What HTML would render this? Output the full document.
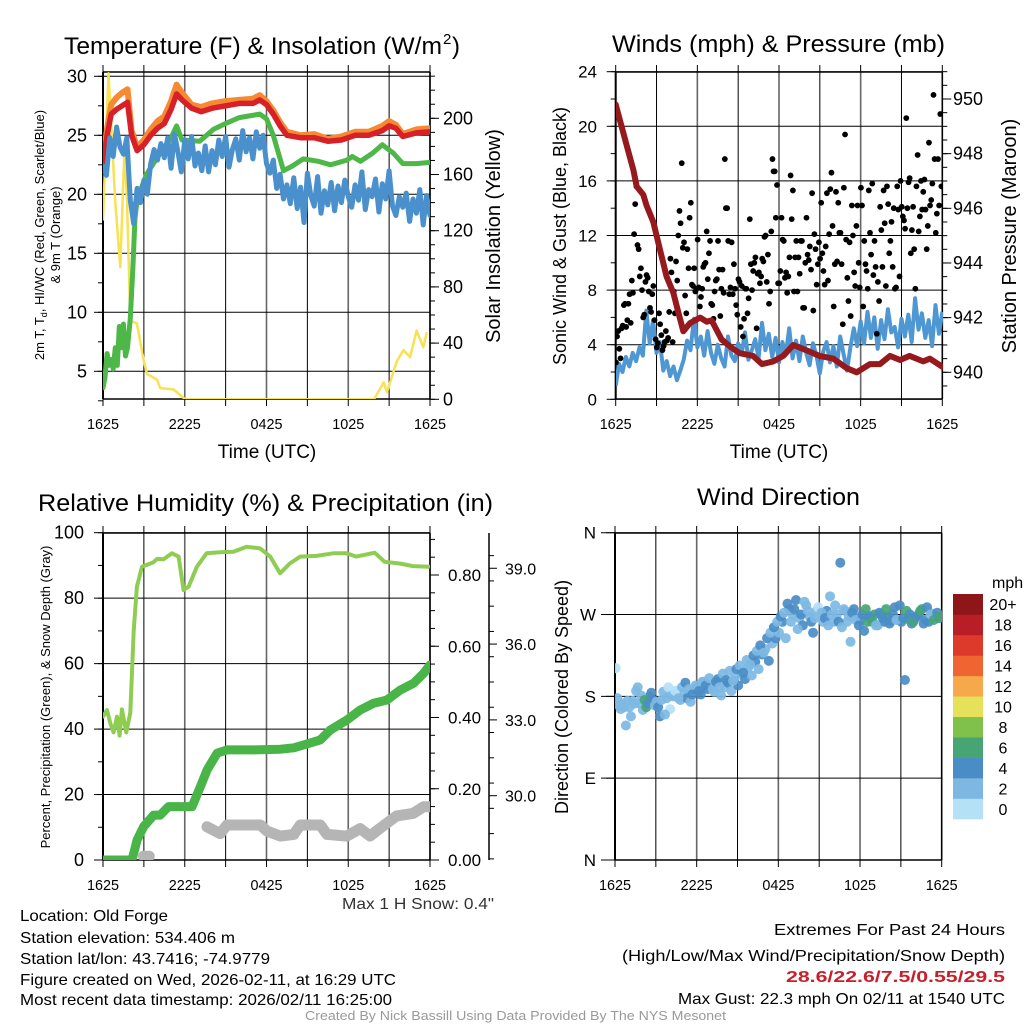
<!DOCTYPE html>
<html><head><meta charset="utf-8"><style>
html,body{margin:0;padding:0;background:#fff;}
svg{display:block;font-family:"Liberation Sans Narrow","Liberation Sans",sans-serif;}
</style></head><body>
<svg id="root" width="1024" height="1024" viewBox="0 0 1024 1024" xmlns="http://www.w3.org/2000/svg">
<rect width="1024" height="1024" fill="#fff"/>
<defs>
<clipPath id="c1"><rect x="103" y="72" width="327" height="327"/></clipPath>
<clipPath id="c2"><rect x="616" y="72" width="327" height="327"/></clipPath>
<clipPath id="c3"><rect x="103" y="533" width="327" height="327"/></clipPath>
<clipPath id="c4"><rect x="615" y="533" width="327" height="327"/></clipPath>
</defs>
<g font-size="24" fill="#000">
<text x="64" y="54" textLength="378" lengthAdjust="spacingAndGlyphs">Temperature (F) &amp; Insolation (W/m</text>
<text x="443" y="44" font-size="15">2</text>
<text x="452" y="54">)</text>
<text x="612" y="52" textLength="333" lengthAdjust="spacingAndGlyphs">Winds (mph) &amp; Pressure (mb)</text>
<text x="38" y="511" textLength="455" lengthAdjust="spacingAndGlyphs">Relative Humidity (%) &amp; Precipitation (in)</text>
<text x="697" y="505" textLength="163" lengthAdjust="spacingAndGlyphs">Wind Direction</text>
</g>
<g font-size="19">
<text x="267" y="458" text-anchor="middle">Time (UTC)</text>
<text x="779" y="458" text-anchor="middle">Time (UTC)</text>
</g>
<g font-size="13" text-anchor="middle">
<text transform="translate(44,235) rotate(-90)">2m T, T<tspan font-size="9" dy="3">d</tspan><tspan dy="-3">, HI/WC (Red, Green, Scarlet/Blue)</tspan></text>
<text transform="translate(60,235) rotate(-90)">&amp; 9m T (Orange)</text>
<text transform="translate(50,697) rotate(-90)">Percent, Precipitation (Green), &amp; Snow Depth (Gray)</text>
</g>
<g font-size="20" text-anchor="middle">
<text transform="translate(500,236) rotate(-90)">Solar Insolation (Yellow)</text>
<text transform="translate(1016,236) rotate(-90)">Station Pressure (Maroon)</text>
</g>
<g font-size="18" text-anchor="middle">
<text transform="translate(566,236) rotate(-90)">Sonic Wind &amp; Gust (Blue, Black)</text>
<text transform="translate(568,697) rotate(-90)">Direction (Colored By Speed)</text>
</g>
<g id="marks"></g>
<g font-size="16" fill="#000">
<text x="342" y="909" fill="#333" textLength="152" lengthAdjust="spacingAndGlyphs">Max 1 H Snow: 0.4"</text>
<text x="20" y="921" textLength="148" lengthAdjust="spacingAndGlyphs">Location: Old Forge</text>
<text x="20" y="943" textLength="215" lengthAdjust="spacingAndGlyphs">Station elevation: 534.406 m</text>
<text x="20" y="964" textLength="250" lengthAdjust="spacingAndGlyphs">Station lat/lon: 43.7416; -74.9779</text>
<text x="20" y="985" textLength="376" lengthAdjust="spacingAndGlyphs">Figure created on Wed, 2026-02-11, at 16:29 UTC</text>
<text x="20" y="1005" textLength="372" lengthAdjust="spacingAndGlyphs">Most recent data timestamp: 2026/02/11 16:25:00</text>
<text x="774" y="935" textLength="231" lengthAdjust="spacingAndGlyphs">Extremes For Past 24 Hours</text>
<text x="622" y="961" textLength="383" lengthAdjust="spacingAndGlyphs">(High/Low/Max Wind/Precipitation/Snow Depth)</text>
<text x="786" y="982" fill="#c8202a" font-weight="bold" textLength="219" lengthAdjust="spacingAndGlyphs">28.6/22.6/7.5/0.55/29.5</text>
<text x="678" y="1004" textLength="327" lengthAdjust="spacingAndGlyphs">Max Gust: 22.3 mph On 02/11 at 1540 UTC</text>
<text x="305" y="1020" font-size="13" fill="#999" textLength="421" lengthAdjust="spacingAndGlyphs">Created By Nick Bassill Using Data Provided By The NYS Mesonet</text>
</g>
</svg>
<script>
// ---------- DATA ----------
const xTickLabels = ["1625","2225","0425","1025","1625"];
const redT = [0,0.3,0.6,1,1.4,1.8,2.1,2.5,3,3.5,4,4.5,5,5.4,5.8,6.5,7.2,8,9,10,11,11.5,12,12.5,13,13.5,14.5,15.5,16.5,17.5,18.5,19.5,20.5,21,21.5,22,23,24];
const redV = [22.6,25,26.8,27.2,27.5,27.8,25,23.7,24.2,25,25.6,26,27.2,28.5,28,27.3,27.0,27.3,27.5,27.7,27.7,28,27.6,26.8,25.8,25.0,24.8,24.8,24.5,24.6,25,25,25.4,25.8,25.6,24.9,25.2,25.3];
const orangeV = [22.9,25.6,27.6,28.2,28.6,28.9,25.4,24.0,24.6,25.5,26.2,26.6,27.9,29.3,28.6,27.6,27.4,27.7,27.9,28.0,28.1,28.4,27.9,27.1,26.1,25.3,25.0,25.1,24.7,24.9,25.3,25.3,25.8,26.2,25.9,25.1,25.5,25.6];
const greenT = [0,0.15,0.3,0.45,0.6,0.75,0.9,1.05,1.2,1.35,1.5,1.65,1.8,2.0,2.2,2.35,2.5,2.8,3.2,4.2,5.0,5.4,5.8,7.1,8.1,9,10,11.5,12,12.5,13.25,13.9,14.7,15.8,16.7,17.9,18.3,18.9,19.8,20.5,21.3,22,23,24];
const greenV = [3.6,4.5,6.5,5.5,6,5.2,7,5.5,8.8,7,9,6.3,7,9.5,14,18,19.5,20.5,21.7,23.5,24.8,25.8,24.6,24.5,25.5,26,26.5,26.8,26.4,25,22,22.4,23,22.8,22.5,22.9,23.2,22.8,23.5,24.2,23.5,22.6,22.6,22.7];
const blueV = [22.4,21.6,24.8,23.2,25.7,24.0,23.4,24.8,19.5,17.5,20.5,19.3,21.2,20.0,22.6,23.8,22.9,24.3,23.1,24.8,22.2,25.1,23.6,21.9,24.6,23.0,24.9,22.4,23.5,22.0,24.1,21.9,23.7,22.5,24.6,23.2,24.9,22.3,23.8,24.7,22.9,25.4,23.6,24.8,23.0,25.3,23.9,25.0,22.6,21.8,22.9,20.5,21.7,19.6,20.8,19.2,21.4,18.8,20.6,17.6,21.8,19.9,19.0,21.5,18.4,20.3,19.1,21.0,18.6,20.7,19.3,21.2,19.8,18.9,20.8,19.5,21.9,18.7,20.4,19.8,21.3,18.5,20.9,19.6,22.0,19.0,18.2,19.8,18.9,20.1,17.7,19.6,18.4,20.4,17.4,19.9,18.2];
const solarT = [0,0.4,0.9,1.27,1.57,1.76,2.0,2.49,2.98,3.23,3.96,4.2,5.18,6.03,19.9,20.6,20.84,21.56,22.05,22.54,23.02,23.51,23.75];
const solarV = [128,232,140,94,177,142,56,54,28,18,14,8,7,0,0,12,5,27,35,30,49,37,47];
const windV = [1.0,2.6,2.0,3.1,2.4,3.4,2.8,3.8,3.2,6.5,4.1,5.8,3.4,4.2,2.1,2.8,1.7,2.4,1.4,2.1,2.9,4.3,3.6,5.9,3.8,4.6,3.2,5.0,3.4,2.6,4.0,3.0,2.4,4.6,3.2,2.8,4.1,3.3,4.9,2.9,3.6,4.4,3.0,5.6,3.6,4.8,3.1,4.5,2.7,4.2,3.3,5.2,3.0,4.3,2.8,4.6,3.4,2.5,4.1,3.2,1.9,3.5,4.2,2.7,3.9,2.4,4.6,3.3,2.1,3.8,5.2,3.9,5.7,4.1,6.4,4.5,6.0,3.7,5.8,4.4,6.6,4.9,5.3,3.8,5.9,4.6,6.2,4.2,7.4,5.1,6.3,4.5,5.8,3.9,6.9,4.8,6.4];
const gustV = [2.7,5.0,3.0,5.4,7.0,5.8, 7.7,8.7,12.1,15.6,11.0,9.6, 6.0,8.6,8.9,6.7,7.7,5.8, 3.8,6.3,4.7,3.9,5.0,4.5, 10.3,4.2,6.3,8.7,13.8,17.3, 11.5,6.3,9.6,14.4,8.3,7.9, 11.7,6.8,8.1,9.9,12.3,10.7, 7.0,5.9,8.7,11.6,6.1,9.5, 17.6,14.0,7.7,11.5,9.9,6.9, 8.8,5.3,4.6,8.1,6.3,13.2, 8.0,10.0,5.2,9.3,9.0,10.1, 12.0,10.6,7.9,17.6,16.7,15.7, 8.5,13.3,11.6,9.3,9.0,16.4, 15.3,10.4,7.9,9.2,11.6,6.7, 13.3,10.2,9.5,6.5,11.0,9.9, 10.3,10.7,8.4,15.1,12.1,16.6, 6.8,15.2,14.4,12.2,5.5,19.4, 8.9,11.5,14.2,9.3,12.7,10.0, 15.5,6.8,9.9,8.1,12.2,15.8, 11.6,4.8,7.2,12.4,15.3,8.3, 14.3,11.6,9.7,8.1,15.6,9.0, 14.1,13.1,20.6,15.9,10.7,14.1, 8.1,17.9,13.4,13.9,16.1,11.0, 18.8,14.6,22.3,12.2,17.6,20.9];
const gust2V = [4.6,3.7,5.2,6.9,5.3,7.0, 5.6,7.8,14.3,11.3,9.0,8.0, 6.2,9.1,7.9,6.4,8.3,4.4, 4.1,5.5,3.6,4.2,4.3,6.4, 9.3,7.9,10.1,12.0,12.9,11.1, 7.6,11.0,13.3,8.4,9.6,8.1, 8.2,7.5,9.7,10.0,8.8,11.6, 6.9,7.9,8.8,9.5,8.1,7.8, 14.0,11.6,8.2,7.7,8.1,6.2, 8.6,8.3,5.9,8.1,7.4,9.9, 9.4,10.4,9.2,8.5,10.3,11.9, 8.6,7.0,12.3,16.7,13.3,8.5, 9.4,11.7,8.9,7.8,10.4,13.2, 7.9,11.6,10.4,11.6,6.7,10.0, 10.6,11.2,15.1,12.1,8.4,11.5, 14.4,9.4,11.2,8.7,15.4,12.7, 9.9,10.1,12.2,9.9,15.5,11.7, 7.2,6.1,12.0,8.3,14.2,8.2, 14.2,11.6,9.4,15.3,10.6,9.1, 9.7,8.6,14.1,9.7,12.9,15.6, 10.7,13.0,14.0,8.2,13.9,16.0, 13.4,12.5,14.0,16.2,12.4,11.0, 15.6,12.3,16.0,15.2,13.9,12.7, 14.2,15.8,17.6,13.6,14.2,15.6];
const presT = [0,0.32,0.81,1.3,1.54,2.03,2.27,2.76,3.25,3.74,4.24,4.6,4.97,5.46,6.2,6.69,7.05,7.78,8.52,9.11,10.1,10.75,11.58,12.31,13.05,13.54,14.03,14.97,15.98,16.98,17.71,18.69,19.42,20.16,20.9,21.6,22.6,23.08,24];
const presV = [949.8,949.2,948.3,947.4,946.8,946.5,946.1,945.5,944.5,943.5,942.9,942.2,941.5,941.8,942,941.85,941.9,941.2,940.9,940.7,940.6,940.3,940.4,940.6,941,940.9,940.8,940.6,940.5,940.15,940,940.3,940.3,940.6,940.45,940.6,940.4,940.5,940.2];
const rhT = [0,0.29,0.54,0.78,1.03,1.22,1.39,1.71,2.0,2.25,2.49,2.86,3.71,3.96,4.45,5.06,5.55,5.91,6.28,6.89,7.6,8.6,9.58,10.55,11.53,12.27,13.0,13.71,14.48,15.67,16.89,17.87,18.6,19.94,20.67,21.77,22.75,23.9];
const rhV = [43.8,45.8,41.7,39,43.8,38,46,39,45,70,83.5,89.6,91,92,91.9,93.7,92.7,82.5,83.5,89.6,93.7,94,94.2,95.7,95.2,92.7,87.6,90.6,92.7,92.9,93.7,93.7,92.7,93.9,91.1,90.6,89.8,89.6];
const precipT = [0,2.13,2.5,2.99,3.72,4.2,4.81,5.42,6.54,7.15,7.64,8.38,9.11,11.07,13.03,14.0,14.97,15.95,16.68,17.9,18.88,19.85,20.84,21.81,22.79,23.53,24];
const precipV = [0,0,0.056,0.094,0.126,0.126,0.15,0.15,0.15,0.206,0.253,0.3,0.309,0.309,0.311,0.315,0.326,0.337,0.365,0.393,0.421,0.44,0.449,0.477,0.496,0.524,0.547];
const snowT = [2.97,3.4,null,7.63,8.6,9.1,11.55,12.04,13.03,14.0,14.48,15.95,16.44,17.9,18.88,19.6,20.3,21.55,22.75,23.53,24];
const snowV = [27.6,27.6,null,28.77,28.5,28.84,28.84,28.6,28.4,28.47,28.84,28.84,28.47,28.4,28.7,28.4,28.7,29.2,29.3,29.56,29.56];
const dirV = [211,170,172,148,168,175,186,172,165,168,180,176, 174,158,185,178,166,180,186,176,184,178,174,188, 190,182,196,188,193,185,199,181,190,195,186,200, 192,205,199,212,203,218,210,226,232,219,238,244, 250,262,244,276,270,286,266,258,280,268,250,274, 268,262,274,290,262,270,327,276,262,240,276,266, 264,252,262,266,270,258,270,262,268,263,278,264, 262,198,265,260,266,270,276,264,262,271,268,266];
const dir2V = [178,166,168,175,158,172,190,181,176,172,184,170, 168,176,160,190,181,186,178,190,195,188,182,192, 186,196,192,200,188,196,190,205,198,208,197,210, 214,206,220,215,225,230,236,228,244,250,256,262, 268,272,282,262,276,254,270,284,274,262,266,278, 272,266,258,270,280,262,256,274,268,272,264,258, 270,276,268,262,258,272,266,276,260,270,264,280, 266,274,270,262,268,274,260,278,270,264,272,268];
const speedBins = ["0","2","4","6","8","10","12","14","16","18","20+"];
const speedColors = ["#b5e1f7","#7db8e3","#4a8dc6","#47a574","#7fc14b","#e6e15a","#f5a94a","#ef6531","#dd3a2c","#b91d26","#8e1619"];

// ---------- AXES ----------
const xs  = t => 103 + t*(327/24);
const xs2 = t => 615.7 + t*(326.6/24);
const xs4 = t => 615 + t*(326.7/24);
const yT  = v => 371.3 - (v-5)*11.8;
const yS  = w => 399.3 - w*1.405;
const yW  = v => 399.3 - v*13.65;
const yP  = p => 372.3 - (p-940)*27.33;
const yRH = v => 860 - v*3.273;
const yPr = p => 860 - p*356.25;
const ySn = s => 795.7 - (s-30)*25.27;
const yD  = d => 860 - d/360*327.3;

const NS="http://www.w3.org/2000/svg";
const marks=document.getElementById('marks');
function el(tag,attrs,parent){const e=document.createElementNS(NS,tag);for(const k in attrs)e.setAttribute(k,attrs[k]);(parent||marks).appendChild(e);return e;}
function grp(clip){return el('g',clip?{'clip-path':'url(#'+clip+')'}:{});}
function pathFrom(ts,vs,fx,fy){let d='',pen=false;for(let i=0;i<ts.length;i++){if(ts[i]===null||vs[i]===null){pen=false;continue;}d+=(pen?'L':'M')+fx(ts[i]).toFixed(1)+' '+fy(vs[i]).toFixed(1);pen=true;}return d;}
function txt(x,y,s,opts,parent){const t=el('text',Object.assign({x:x,y:y},opts||{}),parent);t.textContent=s;return t;}

function frame(x0,x1,y0,y1,fx){
  const g=grp();
  
  
  for(let h=0;h<=24;h+=3){const x=fx(h);
    el('line',{x1:x,x2:x,y1:y0,y2:y1,stroke:(h%6===0)?'#666':'#000','stroke-width':(h%6===0)?1.6:1},g);
    el('line',{x1:x,x2:x,y1:y0-7,y2:y0,stroke:'#000','stroke-width':1},g);
    el('line',{x1:x,x2:x,y1:y1,y2:y1+7,stroke:'#000','stroke-width':1},g);
  }
  el('line',{x1:x0,x2:x1,y1:y0,y2:y0,stroke:'#000','stroke-width':1.5},g);
  el('line',{x1:x0,x2:x1,y1:y1,y2:y1,stroke:'#000','stroke-width':1.5},g);
  el('line',{x1:x0,x2:x0,y1:y0,y2:y1,stroke:'#000','stroke-width':2},g);
  el('line',{x1:x1,x2:x1,y1:y0,y2:y1,stroke:'#000','stroke-width':1.5},g);
  xTickLabels.forEach((s,i)=>{const t=txt(fx(i*6),y1+30,s,{'font-size':15,'text-anchor':'middle',textLength:32,lengthAdjust:'spacingAndGlyphs'},g);
    
    });
}
function yaxis(vals,fy,xAxis,side,labels,labelX,minorVals,gridX0,gridX1,fs){
  const g=grp();
  
  
  const dir=side==='left'?-1:1;
  vals.forEach((v,i)=>{const y=fy(v);
    el('line',{x1:xAxis,x2:xAxis+dir*9,y1:y,y2:y,stroke:'#000','stroke-width':1},g);
    if(gridX0!==null) el('line',{x1:gridX0,x2:gridX1,y1:y,y2:y,stroke:'#000','stroke-width':1},g);
    const t=txt(labelX,y+6,labels[i],{'font-size':fs||18,'text-anchor':side==='left'?'end':'start'},g);
    
    
  });
  (minorVals||[]).forEach(v=>{const y=fy(v);el('line',{x1:xAxis,x2:xAxis+dir*5,y1:y,y2:y,stroke:'#000','stroke-width':1},g);});
}
function range(a,b,s){const r=[];for(let v=a;v<=b+1e-9;v+=s)r.push(+v.toFixed(3));return r;}

// ---------- PANEL 1 ----------
frame(103,430,72,399,xs);
yaxis([5,10,15,20,25,30],yT,103,'left',["5","10","15","20","25","30"],87,range(2.5,30,2.5),103,430);
yaxis([0,40,80,120,160,200],yS,430,'right',["0","40","80","120","160","200"],443,range(0,230,10),null,null);
{const g=grp('c1');
 const d=[['solar-line',pathFrom(solarT,solarV,xs,yS),'#f7e154',2.5],
          ['orange-9m-temp-line',pathFrom(redT,orangeV,xs,yT),'#f58a32',6],
          ['red-2m-temp-line',pathFrom(redT,redV,xs,yT),'#d72027',5.5],
          ['green-dewpoint-line',pathFrom(greenT,greenV,xs,yT),'#4db848',5],
          ['blue-windchill-line',pathFrom(blueV.map((v,i)=>i/4),blueV,xs,yT),'#4a90cc',5]];
 d.forEach(a=>{const p=el('path',{d:a[1],fill:'none',stroke:a[2],'stroke-width':a[3],'stroke-linejoin':'round','stroke-linecap':'round'},g);
   
   });
}

// ---------- PANEL 2 ----------
frame(615.7,942.3,72,399,xs2);
yaxis([0,4,8,12,16,20,24],yW,615.7,'left',["0","4","8","12","16","20","24"],597,range(0,24,2),615.7,942.3,17);
yaxis([940,942,944,946,948,950],yP,942.3,'right',["940","942","944","946","948","950"],953,range(939.5,951,0.5),null,null);
{const g=grp('c2');
 const w=el('path',{d:pathFrom(windV.map((v,i)=>i/4),windV,xs2,yW),fill:'none',stroke:'#4f97d2','stroke-width':4,'stroke-linejoin':'round'},g);
 
 
 gustV.forEach((v,i)=>{const c=el('circle',{cx:xs2(i/6+0.02),cy:yW(v),r:2.9,fill:'#000'},g);
   
   });
 gust2V.forEach((v,i)=>{const c=el('circle',{cx:xs2(i/6+0.1),cy:yW(v),r:2.9,fill:'#000'},g);
   
   });
 const p=el('path',{d:pathFrom(presT,presV,xs2,yP),fill:'none',stroke:'#961a1d','stroke-width':6,'stroke-linejoin':'round','stroke-linecap':'round'},g);
 
 
}

// ---------- PANEL 3 ----------
frame(103,430,533,860,xs);
yaxis([0,20,40,60,80,100],yRH,103,'left',["0","20","40","60","80","100"],84,range(0,100,10),103,430);
yaxis([0,0.2,0.4,0.6,0.8],yPr,430,'right',["0.00","0.20","0.40","0.60","0.80"],448,range(0,0.9,0.05),null,null,17);
{const g=grp();
 
 
 el('line',{x1:489,x2:489,y1:533,y2:860,stroke:'#000','stroke-width':1.5},g);
 [30,33,36,39].forEach(v=>{el('line',{x1:489,x2:497,y1:ySn(v),y2:ySn(v),stroke:'#000'},g);
   const t=txt(505,ySn(v)+6,v.toFixed(1),{'font-size':16},g);
   
   });
 range(27.5,40,1).forEach(v=>{const y=ySn(v);if(y>=533&&y<=860)el('line',{x1:489,x2:494,y1:y,y2:y,stroke:'#000'},g);});
}
{const g=grp('c3');
 const a=[['snow-depth-line',pathFrom(snowT,snowV,xs,ySn),'#b5b5b5',11],
          ['precip-line',pathFrom(precipT,precipV,xs,yPr),'#49b549',9],
          ['rh-line',pathFrom(rhT,rhV,xs,yRH),'#8fcd52',4]];
 a.forEach(b=>{const p=el('path',{d:b[1],fill:'none',stroke:b[2],'stroke-width':b[3],'stroke-linejoin':'round','stroke-linecap':'round'},g);
   
   });
}

// ---------- PANEL 4 ----------
frame(615,941.7,533,860,xs4);
yaxis([0,90,180,270,360],yD,615,'left',["N","E","S","W","N"],596,[],601,941.7,17);
{const g=grp('c4');
 function dot(d,t,s){const ci=Math.min(10,Math.max(0,Math.floor(s/2)));
   const c=el('circle',{cx:xs4(t),cy:yD(d),r:5,fill:speedColors[ci],'fill-opacity':0.92},g);
   
   }
 dirV.forEach((d,i)=>dot(d,i/4+0.05,windV[i]));
 dir2V.forEach((d,i)=>dot(d,i/4+0.17,windV[i+1]));
}
{const g=grp();
 
 
 const h=225/11;
 speedBins.forEach((lab,i)=>{const y=819-(i+1)*h;
   el('rect',{x:953,y:y,width:30,height:h+0.3,fill:speedColors[i]},g);
   const t=txt(1003,y+h/2+6,lab,{'font-size':16,'text-anchor':'middle'},g);
   
   });
 const m=txt(992,588,'mph',{'font-size':16},g);
 
 
}
</script>
</body></html>
